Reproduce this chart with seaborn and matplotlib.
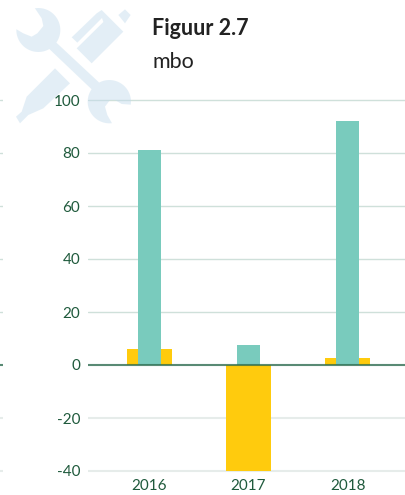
import numpy as np
import pandas as pd
import matplotlib
matplotlib.use("Agg")
import matplotlib.pyplot as plt
from matplotlib.path import Path
from matplotlib.patches import PathPatch
from matplotlib.transforms import Affine2D
import seaborn as sns

years = ["2016", "2017", "2018"]
teal_values = [81, 7.5, 92]
yellow_values = [6, -40, 2.6]
y_ticks = [-40, -20, 0, 20, 40, 60, 80, 100]
y_labels = ["-40", "-20", "0", "20", "40", "60", "80", "100"]
title_text = "Figuur 2.7"
subtitle_text = "mbo"

TEAL = "#79cbbd"
YELLOW = "#ffcb0d"
GREEN = "#1f5a3c"
W, H = 405, 495

sns.set_theme(style="white")
plt.rcParams["font.family"] = ["Lato", "DejaVu Sans"]

fig = plt.figure(figsize=(W / 100, H / 100), dpi=100)
top_px, bot_px = 97.35, 473.65
ax = fig.add_axes([88 / W, 1 - bot_px / H, (W - 88) / W, (bot_px - top_px) / H])
df = pd.DataFrame({"year": years, "teal": teal_values, "yellow": yellow_values})
sns.barplot(data=df, x="year", y="yellow", color=YELLOW, saturation=1, width=0.4545, ax=ax, zorder=2, linewidth=0)
sns.barplot(data=df, x="year", y="teal", color=TEAL, saturation=1, width=0.232, ax=ax, zorder=3, linewidth=0)
ax.set_xlim(-0.621, 2.58)
ax.set_ylim(-41, 101)
ax.set_xlabel("")
ax.set_ylabel("")
ax.set_yticks(y_ticks, y_labels)
ax.tick_params(axis="y", length=0, pad=5.5, labelsize=11, labelcolor=GREEN)
ax.tick_params(axis="x", length=0, pad=4, labelsize=11, labelcolor=GREEN)
for s in ax.spines.values():
    s.set_visible(False)


def style_grid(a):
    a.set_axisbelow(True)
    a.yaxis.grid(True)
    for tick, line in zip(y_ticks, a.yaxis.get_gridlines()):
        line.set_color("#cfe0da" if tick > 0 else "#e6ecea")
        line.set_linewidth(1.0 if tick > 0 else 1.5)


style_grid(ax)
ax.axhline(0, color="#2a6a4c", alpha=0.75, lw=1.5, zorder=4)

# short tick stubs on the far left of the figure
stub = fig.add_axes([0, 1 - bot_px / H, 3 / W, (bot_px - top_px) / H])
stub.set_ylim(ax.get_ylim())
stub.set_yticks(y_ticks, [""] * len(y_ticks))
stub.set_xticks([])
stub.tick_params(length=0)
for s in stub.spines.values():
    s.set_visible(False)
style_grid(stub)
stub.axhline(0, color="#2a6a4c", alpha=0.75, lw=1.5)


# decorative tools icon (traced in 3x pixel coordinates, y down)
def arc(c, r, a0, a1):
    t = np.radians(np.linspace(a0, a1, 30))
    return [(c[0] + r * np.cos(v), c[1] + r * np.sin(v)) for v in t]


c1, c2 = (115, 90), (328, 305)
wrench = (arc(c1, 66, -99, 35)
          + arc(c2, 65, -118, 8)
          + [(365, 312), (345, 300), (330, 300), (315, 320), (322, 345)]
          + arc(c2, 65, 83, 215)
          + arc(c1, 66, 60, 182)
          + [(70, 100), (95, 110), (112, 100), (130, 78), (125, 55)])
pen_low = [(48, 350), (65, 335), (80, 290), (165, 205), (210, 250), (130, 325), (85, 345), (60, 370)]
pen_up = [(215, 112), (290, 40), (305, 30), (370, 95), (275, 190), (230, 145), (310, 66), (306, 54), (232, 128)]
cap = [(355, 45), (375, 28), (392, 45), (375, 70)]
verts, codes = [], []
for poly in (wrench, pen_low, pen_up, cap):
    verts += poly + [poly[0]]
    codes += [Path.MOVETO] + [Path.LINETO] * (len(poly) - 1) + [Path.CLOSEPOLY]
tf = Affine2D().scale(1 / 3, -1 / 3).translate(0, H)
fig.add_artist(PathPatch(Path(verts, codes), fc="#c3dbec", ec="none", alpha=0.45, transform=tf, zorder=5))

fig.text(152 / W, 1 - 35 / H, title_text, fontsize=15.5, fontweight="bold", color="#222222", va="baseline")
fig.text(152 / W, 1 - 68 / H, subtitle_text, fontsize=15.5, color="#222222", va="baseline")

fig.savefig("out.png", dpi=100)
